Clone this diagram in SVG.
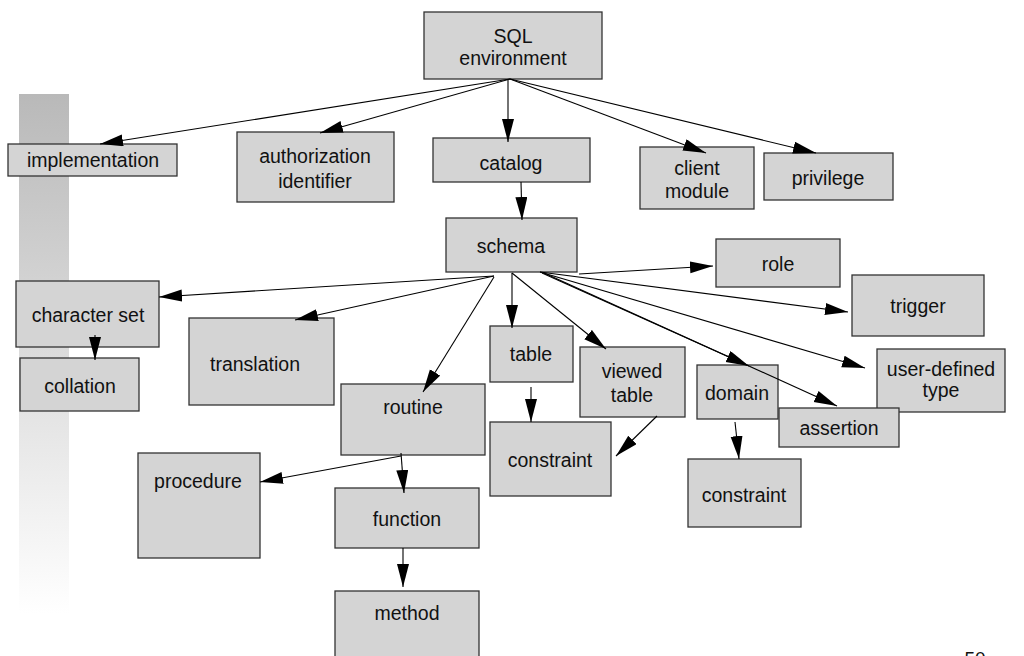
<svg xmlns="http://www.w3.org/2000/svg" width="1024" height="656" viewBox="0 0 1024 656">
<defs>
<linearGradient id="bar" x1="0" y1="0" x2="0" y2="1">
<stop offset="0" stop-color="#b9b9b9"/>
<stop offset="1" stop-color="#ffffff"/>
</linearGradient>
<marker id="ah" markerUnits="userSpaceOnUse" markerWidth="24" markerHeight="13" refX="23" refY="6" orient="auto">
<path d="M0,0 L23,6 L0,12 Z" fill="#000"/>
</marker>
<style>
.n rect{fill:#d4d4d4;stroke:#333;stroke-width:1.3}
.n text{font-family:"Liberation Sans",Arial,sans-serif;font-size:19.5px;fill:#111;text-anchor:middle}
#edges line{stroke:#000;stroke-width:1.1;marker-end:url(#ah)}
</style>
</defs>
<rect width="1024" height="656" fill="#fff"/>
<rect x="19" y="94" width="50" height="520" fill="url(#bar)"/>

<g id="sql-environment" class="n"><rect x="424" y="12" width="178" height="67"/><text x="513" y="43">SQL</text><text x="513" y="65">environment</text></g>
<g id="implementation" class="n"><rect x="8" y="144" width="169" height="32"/><text x="93" y="167">implementation</text></g>
<g id="authorization-identifier" class="n"><rect x="237" y="132" width="157" height="70"/><text x="315" y="163">authorization</text><text x="315" y="188">identifier</text></g>
<g id="catalog" class="n"><rect x="433" y="138" width="157" height="44"/><text x="511" y="170">catalog</text></g>
<g id="client-module" class="n"><rect x="640" y="147" width="114" height="62"/><text x="697" y="175">client</text><text x="697" y="198">module</text></g>
<g id="privilege" class="n"><rect x="764" y="153" width="129" height="47"/><text x="828" y="185">privilege</text></g>
<g id="schema" class="n"><rect x="446" y="218" width="131" height="54"/><text x="511" y="253">schema</text></g>
<g id="role" class="n"><rect x="716" y="239" width="124" height="48"/><text x="778" y="271">role</text></g>
<g id="trigger" class="n"><rect x="852" y="275" width="132" height="61"/><text x="918" y="313">trigger</text></g>
<g id="character-set" class="n"><rect x="16" y="281" width="143" height="66"/><text x="88" y="322">character set</text></g>
<g id="collation" class="n"><rect x="20" y="358" width="119" height="53"/><text x="80" y="393">collation</text></g>
<g id="translation" class="n"><rect x="189" y="318" width="145" height="87"/><text x="255" y="371">translation</text></g>
<g id="routine" class="n"><rect x="341" y="384" width="144" height="71"/><text x="413" y="414">routine</text></g>
<g id="table" class="n"><rect x="490" y="326" width="83" height="56"/><text x="531" y="361">table</text></g>
<g id="viewed-table" class="n"><rect x="580" y="347" width="105" height="70"/><text x="632" y="378">viewed</text><text x="632" y="402">table</text></g>
<g id="user-defined-type" class="n"><rect x="877" y="349" width="128" height="63"/><text x="941" y="376">user-defined</text><text x="941" y="397">type</text></g>
<g id="domain" class="n"><rect x="697" y="365" width="81" height="54"/><text x="737" y="400">domain</text></g>
<g id="assertion" class="n"><rect x="779" y="408" width="120" height="39"/><text x="839" y="435">assertion</text></g>
<g id="table-constraint" class="n"><rect x="490" y="422" width="121" height="74"/><text x="550" y="467">constraint</text></g>
<g id="domain-constraint" class="n"><rect x="688" y="459" width="113" height="68"/><text x="744" y="502">constraint</text></g>
<g id="procedure" class="n"><rect x="138" y="453" width="122" height="105"/><text x="198" y="488">procedure</text></g>
<g id="function" class="n"><rect x="335" y="488" width="144" height="60"/><text x="407" y="526">function</text></g>
<g id="method" class="n"><rect x="335" y="591" width="144" height="80"/><text x="407" y="620">method</text></g>

<g id="edges">
<line x1="510" y1="79" x2="100" y2="144"/>
<line x1="510" y1="79" x2="320" y2="133"/>
<line x1="508" y1="79" x2="508" y2="142"/>
<line x1="510" y1="79" x2="706" y2="153"/>
<line x1="510" y1="79" x2="816" y2="153"/>
<line x1="521" y1="182" x2="522" y2="220"/>
<line x1="494" y1="276" x2="159" y2="297"/>
<line x1="494" y1="276" x2="295" y2="320"/>
<line x1="494" y1="277" x2="423" y2="392"/>
<line x1="512" y1="273" x2="512" y2="328"/>
<line x1="512" y1="273" x2="606" y2="349"/>
<line x1="579" y1="274" x2="713" y2="266"/>
<line x1="540" y1="272" x2="848" y2="312"/>
<line x1="540" y1="272" x2="865" y2="368"/>
<line x1="542" y1="273" x2="749" y2="366"/>
<line x1="544" y1="273" x2="837" y2="406"/>
<line x1="95" y1="335" x2="95" y2="360"/>
<line x1="531" y1="387" x2="531" y2="422"/>
<line x1="657" y1="416" x2="616" y2="456"/>
<line x1="735" y1="422" x2="739" y2="459"/>
<line x1="401" y1="456" x2="260" y2="482"/>
<line x1="401" y1="453" x2="404" y2="493"/>
<line x1="403" y1="548" x2="403" y2="587"/>
</g>
<text x="975" y="665" font-family="Liberation Sans,Arial,sans-serif" font-size="19" fill="#111" text-anchor="middle">50</text>
</svg>
